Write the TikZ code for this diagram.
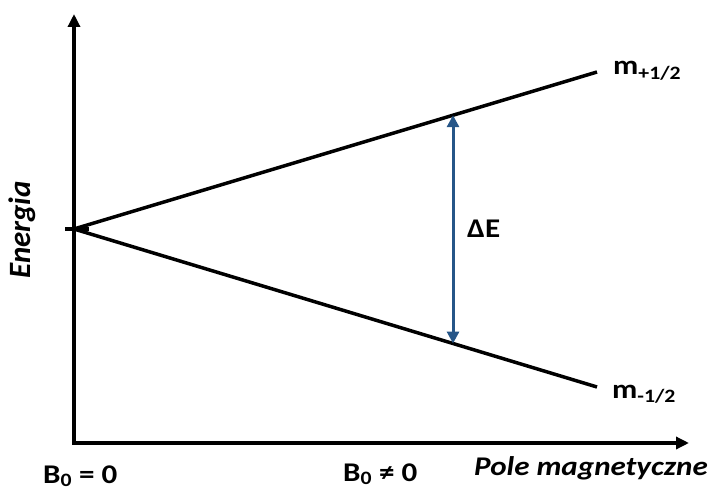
\documentclass[tikz,border=0pt]{standalone}
\usepackage{fontspec}
\setmainfont[FakeStretch=1.15]{Carlito}
\newfontfamily\enfont{Carlito}
\usetikzlibrary{arrows.meta, calc, positioning}
\definecolor{deltacol}{RGB}{38,86,136}

\tikzset{
  axisline/.style={line width=3.5pt, -{Triangle[length=13pt,width=12pt]}},
  levelline/.style={line width=3.5pt},
  gaparrow/.style={deltacol, line width=3pt,
                   {Triangle[length=12pt,width=12pt]}-{Triangle[length=12pt,width=12pt]}},
  lbl/.style={font=\bfseries\fontsize{27}{31}\selectfont, inner sep=0pt},
  axlbl/.style={font=\bfseries\itshape\fontsize{27}{31}\selectfont, inner sep=0pt}
}

\begin{document}
\begin{tikzpicture}[x=1pt,y=1pt]
\useasboundingbox (0,0) rectangle (712,493);

% ── Axes ──────────────────────────────────────────────────────────────────────
\coordinate (O)    at (74,50);
\coordinate (ytop) at (74,479);
\coordinate (xend) at (689,50);
\draw[axisline] ([yshift=-1.75pt]O) -- (ytop);
\draw[axisline] ([xshift=-1.75pt]O) -- (xend);

% ── Zeeman splitting ──────────────────────────────────────────────────────────
\coordinate (S)  at (74,264);
\coordinate (up) at (597,421);
\coordinate (lo) at (597,106);
\draw[levelline] (S) -- (up);
\draw[levelline] (S) -- (lo);
\draw[levelline] ([xshift=-9pt]S) -- ([xshift=15pt]S);

% ── Energy gap ────────────────────────────────────────────────────────────────
\coordinate (gtop) at ($(S)!0.7247!(up)$);
\coordinate (gbot) at ($(S)!0.7247!(lo)$);
\draw[gaparrow] (gbot) -- (gtop);
\node[lbl, anchor=base west] (dE) at (467,255) {ΔE};

% ── Labels ────────────────────────────────────────────────────────────────────
\node[lbl, anchor=base west] (mup) at (613,418) {m\textsubscript{+1/2}};
\node[lbl, anchor=base west] (mlo) at (612,95) {m\textsubscript{-1/2}};
\node[font=\enfont\bfseries\itshape\fontsize{31}{34}\selectfont, inner sep=0pt,
      rotate=90] (en) at (22,263) {Energia};
\node[lbl, anchor=base west] (b0) at (43,10) {B\textsubscript{0} = 0};
\node[lbl, anchor=base west] (b1) at (343,12) {B\textsubscript{0} ≠ 0};
\node[axlbl, anchor=base east] (pm) at (708,18) {Pole magnetyczne};

\end{tikzpicture}
\end{document}
